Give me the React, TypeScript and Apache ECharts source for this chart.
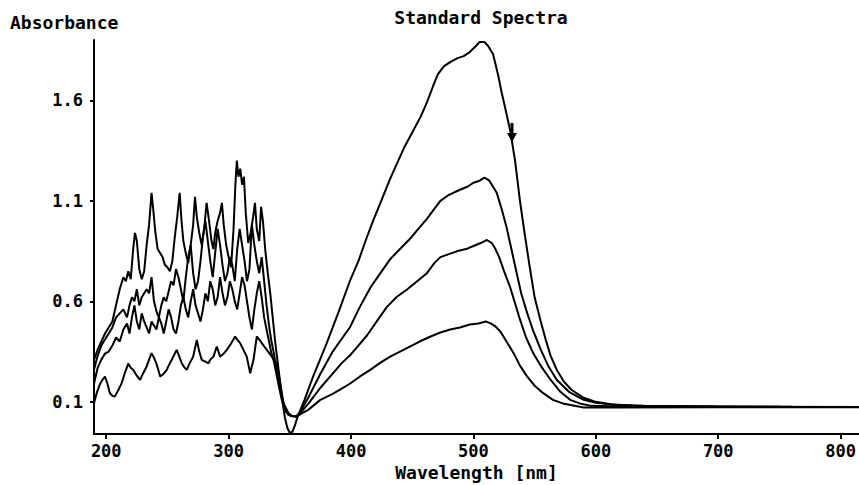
import React, { useEffect, useRef } from "react";
import * as echarts from "echarts";

const FONT = '"DejaVu Sans Mono", "Liberation Mono", monospace';

const xTicks = [200, 300, 400, 500, 600, 700, 800];
const yTicks = [0.1, 0.6, 1.1, 1.6];

const spectrum1 = [
  [190, 0.31], [193, 0.36], [196, 0.4], [199, 0.44], [202, 0.47], [205, 0.5], [208, 0.58], [211, 0.66], [214, 0.72], [216, 0.7],
  [218, 0.75], [220, 0.71], [222, 0.86], [223.5, 0.94], [225, 0.9], [227, 0.76], [229, 0.71], [231, 0.75], [233, 0.88], [235, 0.98],
  [237, 1.14], [238.5, 1.05], [240, 0.95], [242, 0.86], [244, 0.84], [246, 0.82], [248, 0.78], [250, 0.77], [252, 0.75], [254, 0.8],
  [256, 0.92], [258, 1.02], [260, 1.14], [261.5, 1.0], [263, 0.9], [265, 0.84], [267, 0.79], [269, 0.88], [271, 0.98], [272.5, 1.12],
  [274, 1.02], [276, 0.94], [278, 0.88], [280, 0.96], [282, 1.09], [284, 1.0], [286, 0.9], [287.5, 0.86], [289, 0.94], [291, 1.0],
  [293, 1.04], [294.5, 1.09], [296, 0.98], [298, 0.88], [300, 0.82], [302, 0.77], [304, 0.96], [305.5, 1.18], [306.7, 1.3], [308, 1.22],
  [309.5, 1.26], [311, 1.18], [312.5, 1.22], [314, 1.04], [316, 0.89], [318, 0.94], [320, 1.02], [321.5, 1.09], [323, 0.96], [325, 0.9],
  [326.5, 1.07], [328, 1.0], [330, 0.85], [332, 0.74], [334, 0.64], [336, 0.52], [338, 0.4], [340, 0.3], [342, 0.2], [344, 0.1],
  [346, 0.02], [348, -0.03], [350, -0.055], [352, -0.05], [354, -0.02], [356, 0.02], [358, 0.05],
  [362, 0.11], [369, 0.226], [380, 0.39], [390, 0.55], [399, 0.7], [406, 0.8], [413, 0.92], [418, 1.0], [424, 1.09], [432, 1.21],
  [443, 1.36], [450, 1.44], [457, 1.52], [462, 1.59], [467, 1.67], [471, 1.73], [476, 1.77], [481, 1.79], [487, 1.81], [492, 1.82],
  [497, 1.84], [502, 1.87], [505, 1.89], [509, 1.89], [512, 1.87], [516, 1.83], [520, 1.73], [523, 1.64], [526, 1.56], [530, 1.45],
  [534, 1.3], [538, 1.1], [542, 0.93], [546, 0.77], [550, 0.62], [555, 0.5], [559, 0.41], [563, 0.33], [568, 0.26], [574, 0.2],
  [580, 0.16], [590, 0.12], [600, 0.1], [612, 0.088], [630, 0.08], [660, 0.078], [700, 0.077], [750, 0.075], [815, 0.074],
];

const spectrum2 = [
  [190, 0.26], [193, 0.33], [196, 0.38], [199, 0.41], [202, 0.44], [205, 0.47], [208, 0.52], [211, 0.54], [214, 0.56], [217, 0.52],
  [219, 0.58], [221, 0.62], [223, 0.6], [225, 0.66], [227, 0.58], [229, 0.62], [231, 0.64], [233, 0.66], [235, 0.64], [237, 0.72],
  [239, 0.6], [241, 0.55], [243, 0.52], [245, 0.58], [247, 0.62], [249, 0.6], [251, 0.65], [253, 0.7], [255, 0.68], [257, 0.76],
  [259, 0.72], [261, 0.66], [263, 0.6], [265, 0.72], [267, 0.82], [269, 0.88], [271, 0.74], [273, 0.66], [275, 0.7], [277, 0.8],
  [279, 0.92], [281, 1.0], [283, 0.9], [285, 0.8], [287, 0.72], [289, 0.84], [291, 0.96], [293, 0.88], [295, 0.78], [297, 0.7],
  [299, 0.74], [301, 0.82], [303, 0.78], [305, 0.7], [307, 0.86], [309, 0.96], [311, 0.88], [313, 0.8], [315, 0.7], [317, 0.76],
  [319, 0.98], [321, 0.88], [323, 0.8], [325, 0.74], [327, 0.82], [329, 0.7], [331, 0.58], [333, 0.48], [335, 0.4], [337, 0.34],
  [339, 0.26], [341, 0.2], [343, 0.14], [345, 0.09], [347, 0.05], [349, 0.035], [351, 0.03], [353, 0.028], [355, 0.027], [358, 0.045],
  [365, 0.12], [375, 0.24], [385, 0.35], [392, 0.41], [399, 0.47], [407, 0.57], [416, 0.67], [424, 0.74], [432, 0.81], [440, 0.86],
  [448, 0.91], [455, 0.96], [462, 1.01], [468, 1.06], [473, 1.1], [480, 1.13], [489, 1.155], [495, 1.17], [500, 1.19], [505, 1.2],
  [509, 1.215], [513, 1.2], [516, 1.17], [519, 1.14], [523, 1.06], [527, 0.97], [531, 0.86], [535, 0.75], [539, 0.64], [544, 0.54],
  [549, 0.45], [555, 0.36], [561, 0.28], [568, 0.21], [578, 0.15], [590, 0.11], [600, 0.095], [615, 0.085], [640, 0.08], [700, 0.077],
  [760, 0.075], [815, 0.074],
];

const spectrum3 = [
  [190, 0.19], [193, 0.27], [196, 0.31], [199, 0.34], [202, 0.35], [205, 0.38], [208, 0.42], [211, 0.4], [214, 0.46], [217, 0.49],
  [219, 0.44], [221, 0.52], [223, 0.58], [225, 0.5], [227, 0.46], [229, 0.54], [231, 0.5], [233, 0.47], [235, 0.44], [237, 0.5],
  [239, 0.48], [241, 0.46], [243, 0.52], [245, 0.49], [247, 0.44], [249, 0.5], [251, 0.56], [253, 0.52], [255, 0.46], [257, 0.44],
  [259, 0.5], [261, 0.58], [263, 0.62], [265, 0.56], [267, 0.52], [269, 0.6], [271, 0.66], [273, 0.58], [275, 0.54], [277, 0.5],
  [279, 0.56], [281, 0.64], [283, 0.6], [285, 0.7], [287, 0.66], [289, 0.58], [291, 0.62], [293, 0.72], [295, 0.64], [297, 0.58],
  [299, 0.62], [301, 0.7], [303, 0.66], [305, 0.6], [307, 0.56], [309, 0.64], [311, 0.72], [313, 0.68], [315, 0.6], [317, 0.52],
  [319, 0.46], [321, 0.56], [323, 0.64], [325, 0.7], [327, 0.62], [329, 0.52], [331, 0.46], [333, 0.4], [335, 0.34], [337, 0.3],
  [339, 0.24], [341, 0.18], [343, 0.12], [345, 0.08], [347, 0.05], [349, 0.035], [351, 0.03], [353, 0.028], [355, 0.027], [358, 0.04],
  [365, 0.09], [375, 0.17], [385, 0.24], [392, 0.29], [399, 0.33], [406, 0.38], [413, 0.43], [421, 0.5], [429, 0.57], [437, 0.62],
  [446, 0.66], [454, 0.7], [462, 0.74], [468, 0.79], [473, 0.82], [480, 0.835], [487, 0.85], [494, 0.86], [500, 0.875], [506, 0.89],
  [511, 0.905], [515, 0.89], [518, 0.86], [521, 0.82], [525, 0.75], [530, 0.67], [534, 0.59], [538, 0.51], [543, 0.42], [549, 0.34],
  [556, 0.27], [563, 0.21], [571, 0.15], [579, 0.11], [588, 0.09], [596, 0.08], [620, 0.077], [700, 0.076], [815, 0.074],
];

const spectrum4 = [
  [190, 0.093], [192.5, 0.15], [195, 0.19], [197, 0.21], [199, 0.226], [201, 0.19], [203, 0.143], [205, 0.13], [207, 0.126], [210, 0.16],
  [212.6, 0.193], [215, 0.24], [218, 0.29], [220, 0.27], [222, 0.259], [225, 0.23], [227.6, 0.209], [230, 0.24], [233, 0.276], [235, 0.31],
  [237, 0.342], [239, 0.32], [241, 0.29], [243, 0.25], [244, 0.226], [247, 0.24], [249.4, 0.259], [251, 0.28], [253.5, 0.309], [256, 0.34],
  [257.6, 0.358], [260, 0.32], [261.7, 0.292], [264, 0.27], [265.8, 0.259], [268, 0.29], [271, 0.325], [274, 0.408], [276, 0.35], [278, 0.309],
  [281, 0.3], [283.5, 0.292], [285, 0.31], [287.6, 0.325], [290.3, 0.375], [293, 0.325], [296, 0.34], [298.5, 0.358], [302, 0.39], [305.3, 0.425],
  [307, 0.41], [309.4, 0.392], [312, 0.36], [314.8, 0.325], [317.6, 0.242], [320.3, 0.309], [323, 0.425], [325, 0.41], [327.1, 0.392], [331.2, 0.358],
  [335.3, 0.325], [339.4, 0.292], [342.1, 0.193], [344.8, 0.093], [348.9, 0.043], [352, 0.03], [355.7, 0.027], [359, 0.04],
  [365, 0.06], [375, 0.11], [385, 0.14], [392, 0.165], [399, 0.19], [407, 0.225], [416, 0.26], [424, 0.295], [432, 0.325], [440, 0.35],
  [448, 0.375], [456, 0.4], [465, 0.425], [473, 0.445], [481, 0.46], [489, 0.47], [497, 0.485], [504, 0.49], [510, 0.5], [514, 0.49],
  [518, 0.475], [522, 0.45], [527, 0.4], [533, 0.34], [538, 0.28], [544, 0.225], [550, 0.18], [557, 0.143], [565, 0.11], [574, 0.09],
  [590, 0.072], [620, 0.072], [700, 0.073], [815, 0.073],
];

const arrowMark = [531.5, 1.44];

export default function App() {
  const ref = useRef<HTMLDivElement>(null);

  useEffect(() => {
    const chart = echarts.init(ref.current as HTMLDivElement, null, { renderer: "svg" });
    const line = (name: string, data: number[][], extra: any = {}) => ({
      type: "line",
      name,
      data,
      symbol: "none",
      showSymbol: false,
      silent: true,
      lineStyle: { color: "#000", width: 2 },
      itemStyle: { color: "#000" },
      ...extra,
    });
    chart.setOption({
      animation: false,
      backgroundColor: "#fff",
      grid: { left: 94, right: 0, top: 40, bottom: 51, containLabel: false, outerBoundsMode: "none" },
      xAxis: {
        type: "value",
        min: 190,
        max: 815,
        name: "Wavelength [nm]",
        nameLocation: "middle",
        nameGap: 29,
        nameMoveOverlap: false,
        nameTextStyle: { fontFamily: FONT, fontWeight: "bold", fontSize: 18, lineHeight: 18, color: "#000" },
        axisLine: { onZero: false, lineStyle: { color: "#000", width: 2 } },
        axisTick: { show: true, length: 5, lineStyle: { color: "#000", width: 2 }, customValues: xTicks },
        axisLabel: {
          customValues: xTicks,
          margin: 8,
          fontFamily: FONT,
          fontWeight: "bold",
          fontSize: 17,
          lineHeight: 17,
          color: "#000",
          formatter: (v: number) => String(v),
        },
        splitLine: { show: false },
      },
      yAxis: {
        type: "value",
        min: -0.06,
        max: 1.9,
        axisLine: { show: true, onZero: false, lineStyle: { color: "#000", width: 2 } },
        axisTick: { show: true, length: 4, lineStyle: { color: "#000", width: 2 }, customValues: yTicks },
        axisLabel: {
          customValues: yTicks,
          margin: 11,
          fontFamily: FONT,
          fontWeight: "bold",
          fontSize: 17,
          color: "#000",
          formatter: (v: number) => v.toFixed(1),
        },
        splitLine: { show: false },
      },
      graphic: [
        {
          type: "text",
          x: 10,
          y: 22,
          style: {
            text: "Absorbance",
            fill: "#000",
            fontFamily: FONT,
            fontWeight: "bold",
            fontSize: 18,
            align: "left",
            verticalAlign: "middle",
          },
        },
        {
          type: "text",
          x: 481,
          y: 17,
          style: {
            text: "Standard Spectra",
            fill: "#000",
            fontFamily: FONT,
            fontWeight: "bold",
            fontSize: 18,
            align: "center",
            verticalAlign: "middle",
          },
        },
      ],
      series: [
        line("Standard 1", spectrum1, {
          markPoint: {
            silent: true,
            symbol: "path://M3.5,0 L6.5,0 L6.5,9 L10,9 L5,17 L0,9 L3.5,9 Z",
            symbolSize: [10, 19],
            itemStyle: { color: "#000" },
            label: { show: false },
            data: [{ coord: arrowMark }],
          },
        }),
        line("Standard 2", spectrum2),
        line("Standard 3", spectrum3),
        line("Standard 4", spectrum4),
      ],
    });
    return () => chart.dispose();
  }, []);

  return (
    <div
      ref={ref}
      style={{ position: "absolute", left: 0, top: 0, width: 859, height: 485, background: "#fff" }}
    />
  );
}
